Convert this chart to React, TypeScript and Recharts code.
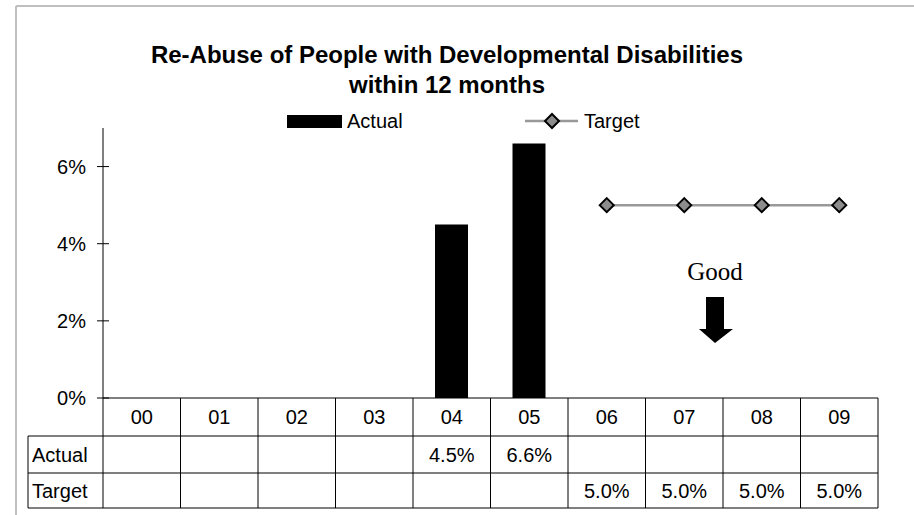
import React from 'react';
import { ComposedChart, Bar, Line, XAxis, YAxis, Customized } from 'recharts';

const years = ['00', '01', '02', '03', '04', '05', '06', '07', '08', '09'];
const actual: (number | null)[] = [null, null, null, null, 4.5, 6.6, null, null, null, null];
const target: (number | null)[] = [null, null, null, null, null, null, 5.0, 5.0, 5.0, 5.0];
const yTicks = [0, 2, 4, 6];
const titleLines = ['Re-Abuse of People with Developmental Disabilities', 'within 12 months'];

const data = years.map((y, i) => ({ year: y, actual: actual[i], target: target[i] }));

const W = 914;
const H = 515;
const M = { top: 128, right: 36, bottom: 4, left: 0 };
const Y_W = 103;
const X_H = 113;
const PLOT_L = M.left + Y_W;
const PLOT_R = W - M.right;
const BAND = (PLOT_R - PLOT_L) / years.length;
const AXIS_Y = H - M.bottom - X_H;
const ROW1 = AXIS_Y + 38;
const ROW2 = ROW1 + 37;
const ROW3 = ROW2 + 35;
const TABLE_L = 28;
const FONT = 'Arial, "Liberation Sans", sans-serif';
const FS = 20;
const LINE_GRAY = '#999999';

const fmt = (v: number | null) => (v == null ? '' : `${v.toFixed(1)}%`);

const XTick = (props: any) => {
  const { x, y, index, payload } = props;
  const half = BAND / 2;
  const i = index;
  return (
    <g>
      {i === 0 && <line x1={x - half} x2={x - half} y1={y} y2={ROW3} stroke="#000" strokeWidth={1} />}
      <line x1={x + half} x2={x + half} y1={y} y2={ROW3} stroke="#000" strokeWidth={1} />
      <text x={x} y={(AXIS_Y + ROW1) / 2} dy="0.35em" textAnchor="middle" fontSize={FS} fontFamily={FONT} fill="#000">
        {payload.value}
      </text>
      <text x={x} y={(ROW1 + ROW2) / 2} dy="0.35em" textAnchor="middle" fontSize={FS} fontFamily={FONT} fill="#000">
        {fmt(actual[i])}
      </text>
      <text x={x} y={(ROW2 + ROW3) / 2} dy="0.35em" textAnchor="middle" fontSize={FS} fontFamily={FONT} fill="#000">
        {fmt(target[i])}
      </text>
    </g>
  );
};

const YTick = (props: any) => {
  const { x, y, payload } = props;
  return (
    <g>
      <line x1={x - 6} x2={x + 6} y1={y} y2={y} stroke="#000" strokeWidth={1} />
      <text x={x - 17} y={y} dy="0.35em" textAnchor="end" fontSize={FS} fontFamily={FONT} fill="#000">
        {`${payload.value}%`}
      </text>
    </g>
  );
};

const Diamond = (props: any) => {
  const { cx, cy, value } = props;
  if (value == null || cx == null || cy == null) return <g />;
  const r = 7;
  return (
    <polygon
      points={`${cx},${cy - r} ${cx + r},${cy} ${cx},${cy + r} ${cx - r},${cy}`}
      fill="#8c8c8c"
      stroke="#000"
      strokeWidth={2}
    />
  );
};

const Decorations = () => (
  <g>
    {/* outer frame */}
    <line x1={16} x2={W} y1={6} y2={6} stroke="#c0c0c0" strokeWidth={2} />
    <line x1={16} x2={16} y1={6} y2={H} stroke="#c0c0c0" strokeWidth={2} />
    {/* title */}
    {titleLines.map((t, i) => (
      <text key={i} x={447} y={63 + i * 30} textAnchor="middle" fontSize={24} fontWeight="bold" fontFamily={FONT} fill="#000">
        {t}
      </text>
    ))}
    {/* legend */}
    <rect x={287} y={115} width={55} height={13} fill="#000" />
    <text x={347} y={121} dy="0.35em" fontSize={FS} fontFamily={FONT} fill="#000">Actual</text>
    <line x1={525} x2={578} y1={121} y2={121} stroke={LINE_GRAY} strokeWidth={2.5} />
    <polygon points="552,114 559,121 552,128 545,121" fill="#8c8c8c" stroke="#000" strokeWidth={2} />
    <text x={584} y={121} dy="0.35em" fontSize={FS} fontFamily={FONT} fill="#000">Target</text>
    {/* table left column and rows */}
    <line x1={TABLE_L} x2={PLOT_R} y1={ROW1} y2={ROW1} stroke="#000" strokeWidth={1} />
    <line x1={TABLE_L} x2={PLOT_R} y1={ROW2} y2={ROW2} stroke="#000" strokeWidth={1} />
    <line x1={TABLE_L} x2={PLOT_R} y1={ROW3} y2={ROW3} stroke="#000" strokeWidth={1} />
    <line x1={TABLE_L} x2={TABLE_L} y1={ROW1} y2={ROW3} stroke="#000" strokeWidth={1} />
    <text x={TABLE_L + 4} y={(ROW1 + ROW2) / 2} dy="0.35em" fontSize={FS} fontFamily={FONT} fill="#000">Actual</text>
    <text x={TABLE_L + 4} y={(ROW2 + ROW3) / 2} dy="0.35em" fontSize={FS} fontFamily={FONT} fill="#000">Target</text>
    {/* Good annotation */}
    <text x={715} y={280} textAnchor="middle" fontSize={25} fontFamily='"Liberation Serif", "Times New Roman", serif' fill="#000">Good</text>
    <polygon points="706,297 724,297 724,329 733,329 715,343 699,329 706,329" fill="#000" />
  </g>
);

export default function App() {
  return (
    <div style={{ position: 'absolute', left: 0, top: 0, width: W, height: H, background: '#fff' }}>
      <ComposedChart width={W} height={H} data={data} margin={M}>
        <XAxis
          dataKey="year"
          height={X_H}
          axisLine={{ stroke: '#000', strokeWidth: 1 }}
          tickLine={false}
          tickSize={0}
          tickMargin={0}
          tick={<XTick />}
          interval={0}
        />
        <YAxis
          width={Y_W}
          domain={[0, 7]}
          ticks={yTicks}
          axisLine={{ stroke: '#000', strokeWidth: 1 }}
          tickLine={false}
          tickSize={0}
          tickMargin={0}
          tick={<YTick />}
          interval={0}
        />
        <Bar dataKey="actual" fill="#000" barSize={33} isAnimationActive={false} />
        <Line
          dataKey="target"
          stroke={LINE_GRAY}
          strokeWidth={2.5}
          dot={<Diamond />}
          activeDot={false}
          isAnimationActive={false}
        />
        <Customized component={Decorations} />
      </ComposedChart>
    </div>
  );
}
